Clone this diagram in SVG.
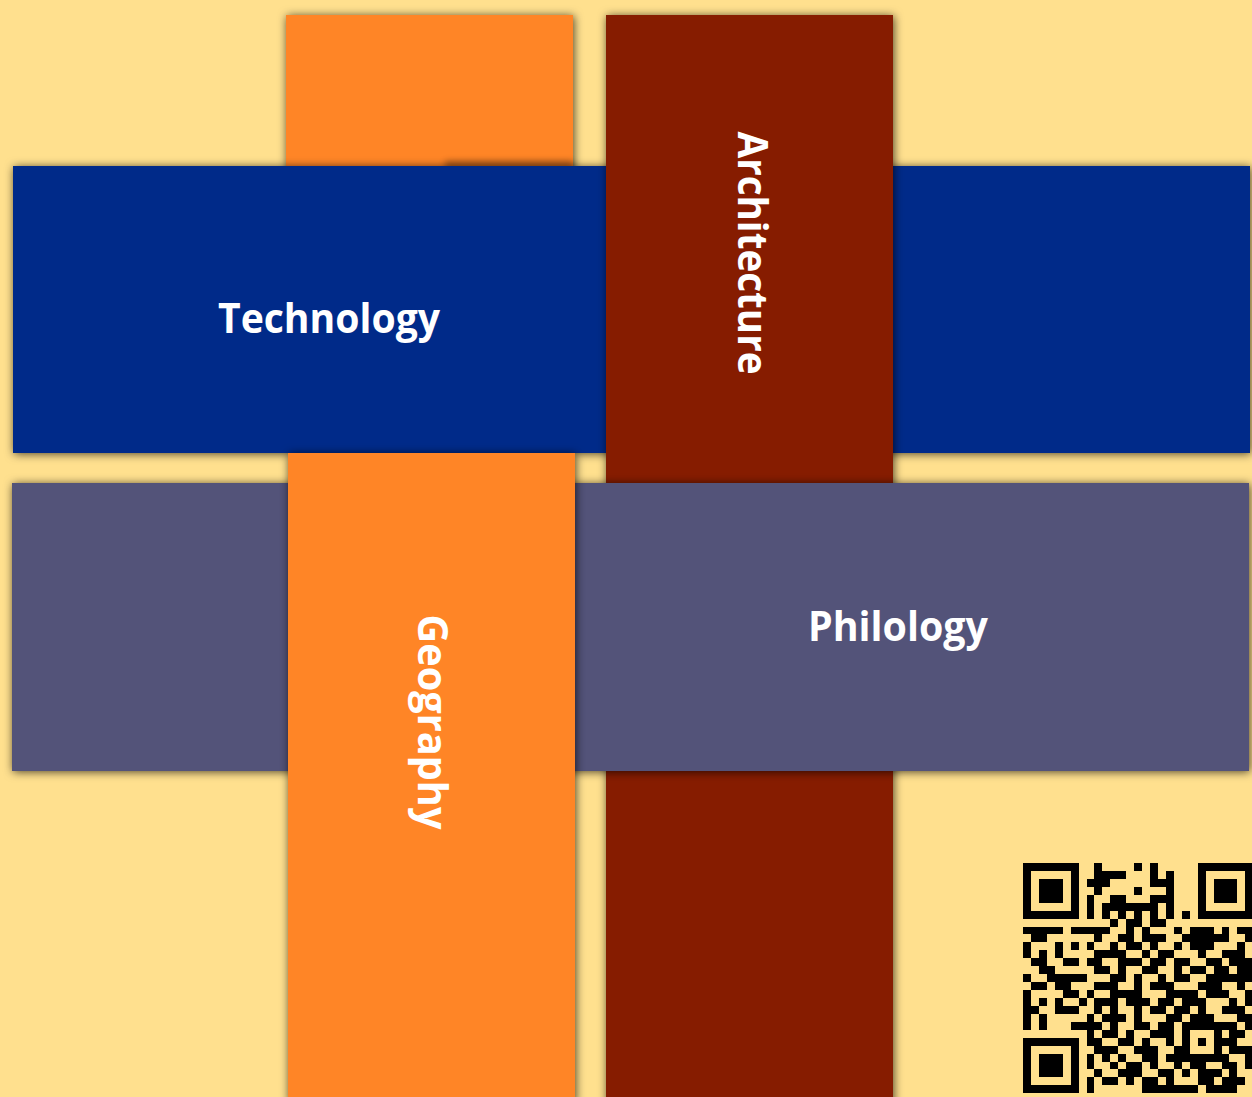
<svg xmlns="http://www.w3.org/2000/svg" width="1252" height="1097" viewBox="0 0 1252 1097">
  <style>
    .lbl { font-family: "Open Sans", "Liberation Sans", sans-serif; font-weight: bold; font-size: 42px; fill: #FFFFFF; text-anchor: middle; }
    .orange { fill: #FF8527; }
    .maroon { fill: #861B00; }
    .blue { fill: #002B89; }
    .grey { fill: #535379; }
    .bar { filter: url(#shadow); }
  </style>
  <defs>
    <filter id="shadow" x="-10%" y="-10%" width="120%" height="120%">
      <feDropShadow dx="1" dy="1" stdDeviation="5" flood-color="#000000" flood-opacity="0.7"/>
    </filter>
    <filter id="soft" x="-20%" y="-100%" width="140%" height="300%">
      <feGaussianBlur stdDeviation="3"/>
    </filter>
  </defs>
  <rect x="0" y="0" width="1252" height="1097" fill="#FFE08E"/>

  <g id="top-orange-bar">
    <rect class="orange bar" x="286" y="15" width="287" height="160"/>
    <rect x="445" y="161" width="128" height="8" fill="#000000" opacity="0.35" filter="url(#soft)"/>
  </g>

  <g id="technology">
    <rect class="blue bar" x="13" y="166" width="1237" height="287"/>
    <text class="lbl" x="329" y="333" textLength="222" lengthAdjust="spacingAndGlyphs">Technology</text>
  </g>

  <g id="architecture">
    <rect class="maroon bar" x="606" y="15" width="287" height="1090"/>
    <text class="lbl" transform="translate(738,253) rotate(90)" x="0" y="0" textLength="243" lengthAdjust="spacingAndGlyphs">Architecture</text>
  </g>

  <g id="philology">
    <rect class="grey bar" x="12" y="483" width="1237" height="288"/>
    <text class="lbl" x="898" y="641" textLength="180" lengthAdjust="spacingAndGlyphs">Philology</text>
  </g>

  <g id="geography">
    <rect class="orange bar" x="288" y="453" width="287" height="650"/>
    <text class="lbl" transform="translate(418,722) rotate(90)" x="0" y="0" textLength="215" lengthAdjust="spacingAndGlyphs">Geography</text>
  </g>

  <g id="connectors"></g>

  <g id="qr-code" transform="translate(1023,863) scale(7.94)">
    <path fill="#000000" shape-rendering="crispEdges" d="
M0,0h7v1h-7z M9,0h1v1h-1z M14,0h1v1h-1z M16,0h1v1h-1z M22,0h7v1h-7z
M0,1h1v1h-1z M6,1h1v1h-1z M9,1h4v1h-4z M16,1h1v1h-1z M18,1h1v1h-1z M22,1h1v1h-1z M28,1h1v1h-1z
M0,2h1v1h-1z M2,2h3v1h-3z M6,2h1v1h-1z M8,2h3v1h-3z M16,2h3v1h-3z M22,2h1v1h-1z M24,2h3v1h-3z M28,2h1v1h-1z
M0,3h1v1h-1z M2,3h3v1h-3z M6,3h1v1h-1z M9,3h1v1h-1z M14,3h1v1h-1z M18,3h1v1h-1z M22,3h1v1h-1z M24,3h3v1h-3z M28,3h1v1h-1z
M0,4h1v1h-1z M2,4h3v1h-3z M6,4h1v1h-1z M8,4h1v1h-1z M11,4h2v1h-2z M16,4h3v1h-3z M22,4h1v1h-1z M24,4h3v1h-3z M28,4h1v1h-1z
M0,5h1v1h-1z M6,5h1v1h-1z M8,5h1v1h-1z M10,5h7v1h-7z M18,5h1v1h-1z M22,5h1v1h-1z M28,5h1v1h-1z
M0,6h7v1h-7z M8,6h1v1h-1z M10,6h1v1h-1z M12,6h1v1h-1z M14,6h1v1h-1z M16,6h1v1h-1z M18,6h1v1h-1z M20,6h1v1h-1z M22,6h7v1h-7z
M11,7h1v1h-1z M13,7h2v1h-2z M16,7h2v1h-2z
M0,8h5v1h-5z M6,8h5v1h-5z M13,8h1v1h-1z M15,8h1v1h-1z M19,8h1v1h-1z M21,8h3v1h-3z M25,8h1v1h-1z M27,8h2v1h-2z
M1,9h2v1h-2z M9,9h1v1h-1z M12,9h2v1h-2z M15,9h3v1h-3z M20,9h6v1h-6z M28,9h1v1h-1z
M0,10h1v1h-1z M4,10h1v1h-1z M6,10h1v1h-1z M8,10h1v1h-1z M11,10h1v1h-1z M13,10h2v1h-2z M16,10h1v1h-1z M19,10h1v1h-1z M21,10h3v1h-3z M27,10h1v1h-1z
M0,11h1v1h-1z M2,11h1v1h-1z M4,11h1v1h-1z M9,11h4v1h-4z M15,11h1v1h-1z M17,11h2v1h-2z M22,11h1v1h-1z M25,11h3v1h-3z
M1,12h2v1h-2z M5,12h2v1h-2z M8,12h2v1h-2z M12,12h3v1h-3z M16,12h2v1h-2z M19,12h2v1h-2z M23,12h2v1h-2z M26,12h3v1h-3z
M2,13h2v1h-2z M9,13h2v1h-2z M12,13h1v1h-1z M15,13h2v1h-2z M19,13h1v1h-1z M21,13h2v1h-2z M24,13h2v1h-2z M27,13h2v1h-2z
M0,14h1v1h-1z M3,14h5v1h-5z M11,14h2v1h-2z M14,14h1v1h-1z M17,14h1v1h-1z M19,14h2v1h-2z M23,14h6v1h-6z
M1,15h2v1h-2z M4,15h2v1h-2z M9,15h3v1h-3z M14,15h1v1h-1z M16,15h3v1h-3z M22,15h3v1h-3z M27,15h1v1h-1z
M0,16h1v1h-1z M5,16h2v1h-2z M8,16h1v1h-1z M11,16h4v1h-4z M18,16h4v1h-4z M23,16h3v1h-3z M28,16h1v1h-1z
M0,17h1v1h-1z M2,17h1v1h-1z M4,17h1v1h-1z M7,17h1v1h-1z M9,17h3v1h-3z M13,17h3v1h-3z M17,17h2v1h-2z M20,17h3v1h-3z M26,17h1v1h-1z M28,17h1v1h-1z
M0,18h2v1h-2z M4,18h3v1h-3z M9,18h1v1h-1z M11,18h1v1h-1z M14,18h1v1h-1z M16,18h2v1h-2z M19,18h2v1h-2z M22,18h1v1h-1z M25,18h3v1h-3z
M0,19h1v1h-1z M2,19h1v1h-1z M8,19h1v1h-1z M10,19h3v1h-3z M14,19h1v1h-1z M18,19h2v1h-2z M21,19h3v1h-3z M27,19h2v1h-2z
M0,20h1v1h-1z M2,20h1v1h-1z M6,20h4v1h-4z M11,20h1v1h-1z M14,20h2v1h-2z M17,20h2v1h-2z M20,20h7v1h-7z M28,20h1v1h-1z
M8,21h1v1h-1z M10,21h2v1h-2z M13,21h1v1h-1z M16,21h3v1h-3z M20,21h1v1h-1z M24,21h1v1h-1z M26,21h2v1h-2z
M0,22h7v1h-7z M8,22h2v1h-2z M12,22h2v1h-2z M15,22h1v1h-1z M18,22h1v1h-1z M20,22h1v1h-1z M22,22h1v1h-1z M24,22h3v1h-3z
M0,23h1v1h-1z M6,23h1v1h-1z M9,23h3v1h-3z M14,23h3v1h-3z M19,23h2v1h-2z M24,23h1v1h-1z M26,23h3v1h-3z
M0,24h1v1h-1z M2,24h3v1h-3z M6,24h1v1h-1z M8,24h1v1h-1z M10,24h1v1h-1z M12,24h1v1h-1z M15,24h2v1h-2z M18,24h8v1h-8z M28,24h1v1h-1z
M0,25h1v1h-1z M2,25h3v1h-3z M6,25h1v1h-1z M8,25h1v1h-1z M11,25h1v1h-1z M13,25h2v1h-2z M16,25h1v1h-1z M19,25h1v1h-1z M21,25h2v1h-2z M25,25h2v1h-2z M28,25h1v1h-1z
M0,26h1v1h-1z M2,26h3v1h-3z M6,26h1v1h-1z M9,26h1v1h-1z M12,26h3v1h-3z M17,26h2v1h-2z M20,26h1v1h-1z M22,26h3v1h-3z M26,26h1v1h-1z
M0,27h1v1h-1z M6,27h1v1h-1z M8,27h1v1h-1z M10,27h2v1h-2z M13,27h1v1h-1z M15,27h2v1h-2z M18,27h1v1h-1z M22,27h2v1h-2z M25,27h3v1h-3z
M0,28h7v1h-7z M8,28h1v1h-1z M15,28h7v1h-7z M23,28h4v1h-4z"/>
  </g>
</svg>
